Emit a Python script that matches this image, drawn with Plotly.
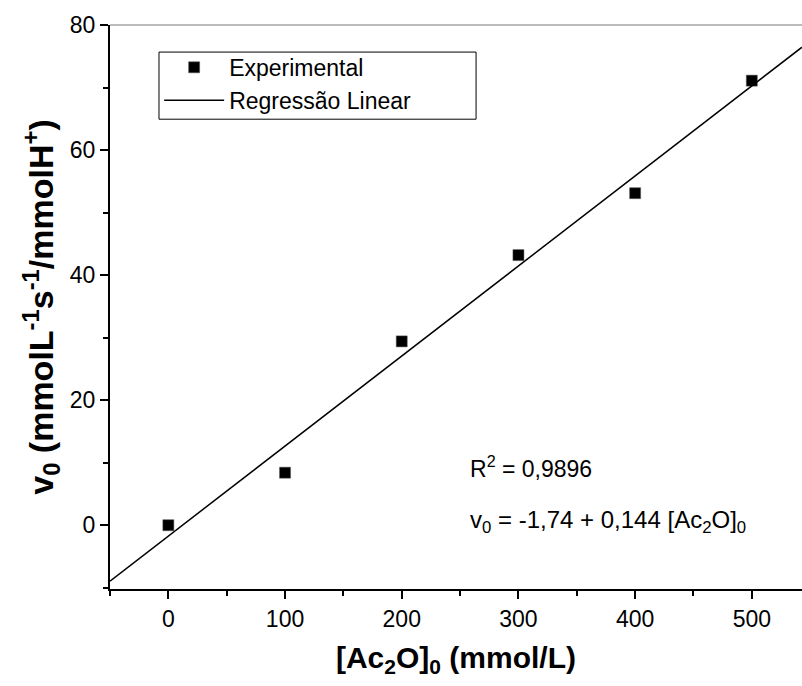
import plotly.graph_objects as go

# Data
conc = [0, 100, 200, 300, 400, 500]          # [Ac2O]0 (mmol/L)
v0 = [0.0, 8.4, 29.4, 43.2, 53.1, 71.1]      # v0
intercept = -1.74
slope = 0.144
fit_x = [-50, 543]
fit_y = [intercept + slope * x for x in fit_x]
x_ticks = [0, 100, 200, 300, 400, 500]
y_ticks = [0, 20, 40, 60, 80]

font_main = "Liberation Sans, Arial, sans-serif"

fig = go.Figure()
fig.add_trace(go.Scatter(
    x=conc, y=v0, mode="markers", name="Experimental",
    marker=dict(symbol="square", size=11, color="black",
                line=dict(color="#555", width=0.5)),
))
fig.add_trace(go.Scatter(
    x=fit_x, y=fit_y, mode="lines", name="Regressão Linear",
    line=dict(color="black", width=1.5),
))

fig.update_layout(
    width=802, height=686,
    margin=dict(l=110, r=0, t=25, b=97),
    paper_bgcolor="white", plot_bgcolor="white",
    font=dict(family=font_main, size=22, color="black"),
    showlegend=True,
    legend=dict(
        x=0.071, y=0.963, xanchor="left", yanchor="top",
        borderwidth=0, bgcolor="rgba(0,0,0,0)",
        font=dict(size=23), tracegroupgap=0, itemwidth=60,
    ),
    xaxis=dict(
        range=[-50, 543], showgrid=False, zeroline=False,
        showline=True, linecolor="black", linewidth=2,
        ticks="outside", ticklen=8, tickwidth=2, tickcolor="black",
        tickvals=x_ticks,
        minor=dict(tickvals=[-50, 50, 150, 250, 350, 450], ticks="outside",
                   ticklen=5, tickwidth=2, tickcolor="black"),
        tickfont=dict(size=23),
        title=dict(text="<b>[Ac<sub>2</sub>O]<sub>0</sub> (mmol/L)</b>",
                   font=dict(size=30), standoff=16),
    ),
    yaxis=dict(
        range=[-10.2, 80], showgrid=False, zeroline=False,
        showline=True, linecolor="black", linewidth=2,
        ticks="outside", ticklen=8, tickwidth=2, tickcolor="black",
        tickvals=y_ticks,
        minor=dict(tickvals=[-10, 10, 30, 50, 70], ticks="outside",
                   ticklen=5, tickwidth=2, tickcolor="black"),
        tickfont=dict(size=23),
        title=dict(text="<b>v<sub>0</sub> (mmolL<sup>-1</sup>s<sup>-1</sup>/mmolH<sup>+</sup>)</b>",
                   font=dict(size=34), standoff=6),
    ),
    shapes=[
        dict(type="line", xref="paper", yref="paper", x0=0, x1=1, y0=1, y1=1,
             line=dict(color="#777", width=1)),
        dict(type="rect", xref="paper", yref="paper", x0=0.0708, x1=0.529,
             y0=0.833, y1=0.952, line=dict(color="black", width=1),
             fillcolor="white", layer="below"),
    ],
    annotations=[
        dict(x=257, y=9.3, xref="x", yref="y", xanchor="left", yanchor="middle",
             text="R<sup>2</sup> = 0,9896", showarrow=False, font=dict(size=23)),
        dict(x=257, y=0.6, xref="x", yref="y", xanchor="left", yanchor="middle",
             text="v<sub>0</sub> = -1,74 + 0,144 [Ac<sub>2</sub>O]<sub>0</sub>",
             showarrow=False, font=dict(size=24)),
    ],
)

fig.write_html("out.html")
